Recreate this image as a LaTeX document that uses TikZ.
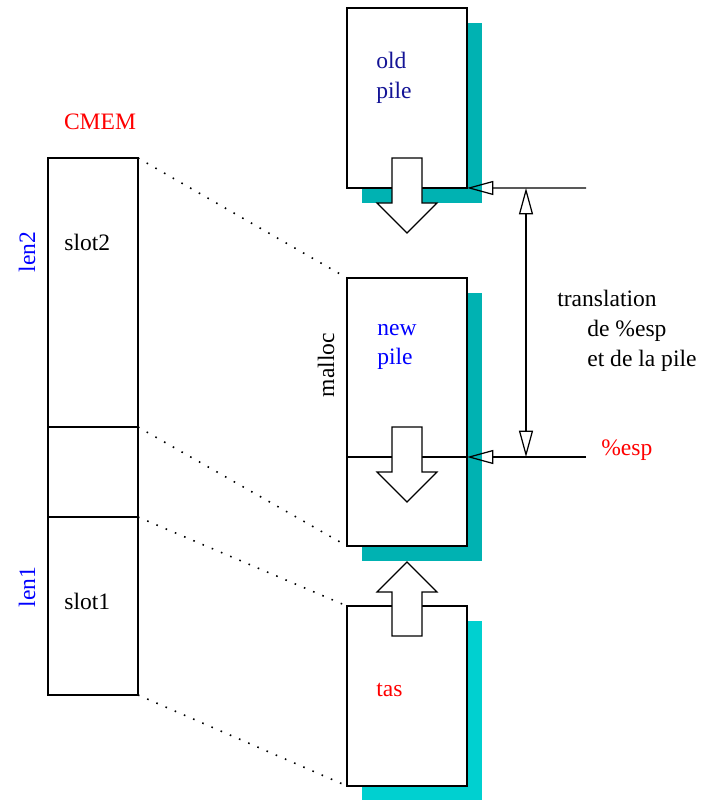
\documentclass[tikz,border=0pt]{standalone}
\usepackage{fontspec}
\setmainfont{Liberation Serif}
\usetikzlibrary{arrows.meta,shadows}
\definecolor{shadeold}{RGB}{0,178,178}
\definecolor{shadetas}{RGB}{0,208,208}
\definecolor{oldblue}{RGB}{20,20,150}
\newcommand{\tri}{Triangle[open,length=15pt,width=8pt]}

\tikzset{
  mem/.style={draw, line width=.7pt, inner sep=0pt, outer sep=0pt, minimum width=1.8cm, anchor=north west},
  pile/.style={draw, fill=white, line width=.7pt, inner sep=0pt, outer sep=0pt, minimum width=2.4cm, anchor=north west},
  shadeA/.style={drop shadow={shadow xshift=.3cm, shadow yshift=-.3cm, fill=shadeold, opacity=1}},
  shadeB/.style={drop shadow={shadow xshift=.3cm, shadow yshift=-.3cm, fill=shadetas, opacity=1}},
  blk/.style={draw, fill=white, line width=.7pt, line join=miter},
  link/.style={line width=.9pt, dash pattern=on .9pt off 4.8pt},
  lbl/.style={inner sep=0pt, align=left},
}

\begin{document}
\begin{tikzpicture}[x=0.02cm, y=-0.02cm,
    every node/.style={font=\fontsize{13.4}{17}\selectfont}]
   \useasboundingbox (0,0) rectangle (718,800);

   % memoire CMEM
   \node[mem, minimum height=5.38cm] (slotB) at ( 48,158) {};
   \node[mem, minimum height=1.8cm]  (gap)   at ( 48,427) {};
   \node[mem, minimum height=3.56cm] (slotA) at ( 48,517) {};
   \node[lbl, text=red]  (cmem) at (100,122) {CMEM};
   \node[lbl, anchor=west] (s2) at ( 64,242) {slot2};
   \node[lbl, anchor=west] (s1) at ( 64,601) {slot1};
   \node[lbl, text=blue, rotate=90] (l2) at ( 27,252) {len2};
   \node[lbl, text=blue, rotate=90] (l1) at ( 27,587) {len1};

   % piles
   \node[pile, shadeA, minimum height=3.6cm]  (old) at (347,  8) {};
   \node[pile, shadeA, minimum height=5.36cm] (new) at (347,278) {};
   \node[pile, shadeB, minimum height=3.6cm]  (tas) at (347,606) {};
   \node[lbl, text=oldblue, anchor=west] (oldt) at (376, 78) {old\\pile};
   \node[lbl, text=blue, anchor=west]    (newt) at (377,347) {new\\pile};
   \node[lbl, text=red, anchor=west]     (tast) at (376,690) {tas};
   \node[lbl, rotate=90] (mal) at (326,365) {malloc};

   % liens
   \draw[link] (slotB.north east) -- (new.north west);
   \draw[link] (gap.north east)   -- (new.south west);
   \draw[link] (slotA.north east) -- (tas.north west);
   \draw[link] (slotA.south east) -- (tas.south west);

   % %esp
   \coordinate (oldEnd) at (586,188);
   \coordinate (espEnd) at (586,457);
   \coordinate (espIn)  at (347,457);
   \coordinate (espOut) at (467,457);
   \coordinate (trTop)  at (526,188);
   \coordinate (trBot)  at (526,457);
   \draw[line width=.7pt] (espIn) -- (espOut);
   \draw[line width=.7pt, -{\tri}] (oldEnd) -- (old.south east);
   \draw[line width=.7pt, -{\tri}] (espEnd) -- (espOut);
   \draw[line width=.7pt, {\tri}-{\tri}] (trTop) -- (trBot);

   % fleches
   \draw[blk] (392,158) -- (422,158) -- (422,203) -- (437,203) -- (407,233)
              -- (377,203) -- (392,203) -- cycle;
   \draw[blk] (392,427) -- (422,427) -- (422,472) -- (437,472) -- (407,502)
              -- (377,472) -- (392,472) -- cycle;
   \draw[blk] (392,636) -- (422,636) -- (422,592) -- (437,592) -- (407,562)
              -- (377,592) -- (392,592) -- cycle;

   \node[lbl, anchor=west] (transl) at (557,331)
      {translation\\\hspace*{0.6cm}de \%esp\\\hspace*{0.6cm}et de la pile};
   \node[lbl, text=red, anchor=west] (esp) at (601,450) {\%esp};
\end{tikzpicture}
\end{document}
